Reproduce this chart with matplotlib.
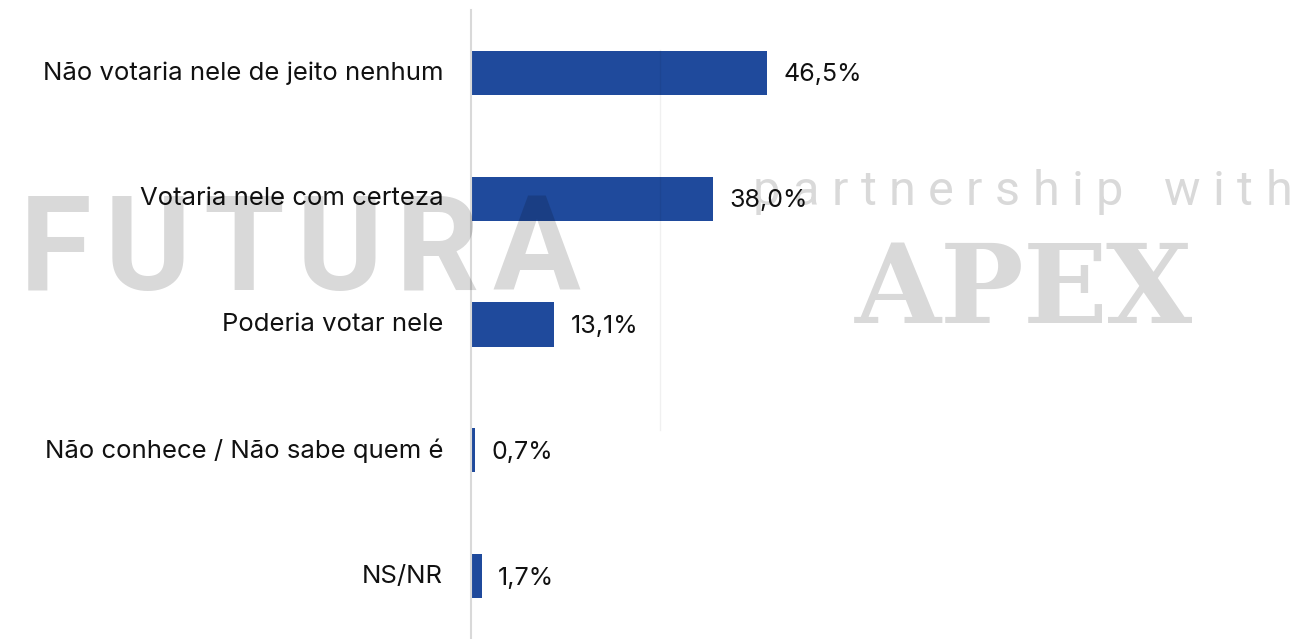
import matplotlib.pyplot as plt

# Data
categories = ['Não votaria nele de jeito nenhum', 'Votaria nele com certeza',
              'Poderia votar nele', 'Não conhece / Não sabe quem é', 'NS/NR']
values = [46.5, 38.0, 13.1, 0.7, 1.7]
labels = ['46,5%', '38,0%', '13,1%', '0,7%', '1,7%']

plt.rcParams['font.family'] = ['Inter', 'DejaVu Sans']

W, H = 1302, 639
fig = plt.figure(figsize=(W / 100, H / 100), dpi=100)
ax = fig.add_axes([471 / W, 0, (1290 - 471) / W, (639 - 10) / H])

bar_color = '#1f4a9c'
ax.barh(range(len(values)), values, height=0.35, color=bar_color)
ax.set_xlim(0, (1290 - 471) / 6.37)
ax.set_ylim(len(values) - 0.5, -0.5)

# Value labels
for i, (v, lab) in enumerate(zip(values, labels)):
    ax.annotate(lab, (v, i), xytext=(16, -2), textcoords='offset pixels',
                va='center', ha='left', fontsize=18, color='#111111')

ax.set_yticks(range(len(categories)))
ax.set_yticklabels(categories, fontsize=18.5, color='#111111')
for t in ax.get_yticklabels():
    t.set_va('center')
ax.tick_params(axis='y', length=0, pad=20)
ax.set_xticks([])
for s in ['top', 'right', 'bottom']:
    ax.spines[s].set_visible(False)
ax.spines['left'].set_color('#d9d9d9')
ax.spines['left'].set_linewidth(1.5)


def spaced_text(s, left, right, base, **kw):
    # place letters one by one so the word fills [left, right]
    r = fig.canvas.get_renderer()
    widths = []
    for ch in s:
        t = fig.text(0, 0, ch if ch != ' ' else 'n', **kw)
        w = t.get_window_extent(r).width
        widths.append(w * 0.6 if ch == ' ' else w)
        t.remove()
    track = (right - left - sum(widths)) / (len(s) - 1)
    x = left
    for ch, w in zip(s, widths):
        if ch != ' ':
            fig.text(x / W, 1 - base / H, ch, ha='left', va='baseline', **kw)
        x += w + track


# Watermark
wm = dict(color='black', alpha=0.15, zorder=10)
spaced_text('FUTURA', 20, 580, 290, fontsize=94, fontweight='bold',
            family='Roboto', **wm)
spaced_text('partnership with', 753, 1292, 205, fontsize=35,
            family='Roboto', **wm)
spaced_text('APEX', 855, 1192, 323, fontsize=80, fontweight='bold',
            family='DejaVu Serif', **wm)
fig.add_artist(plt.Line2D([660 / W, 660 / W], [1 - 50 / H, 1 - 430 / H],
                          transform=fig.transFigure, color='black', alpha=0.06, lw=1))

fig.savefig('out.png', dpi=100)
